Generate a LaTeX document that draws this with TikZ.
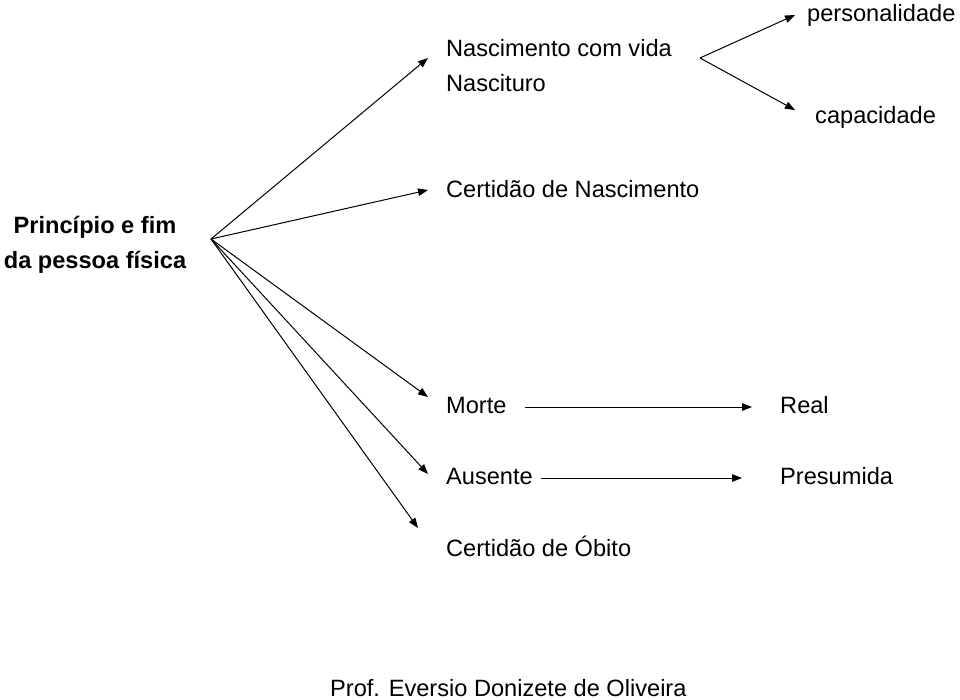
\documentclass[tikz,border=0pt]{standalone}
\usepackage{fontspec}
\setmainfont{Liberation Sans}
\usetikzlibrary{arrows.meta}
\begin{document}
\begin{tikzpicture}[x=1pt,y=-1pt,
  lbl/.style={anchor=base west,inner sep=0pt,font=\fontsize{23.6}{26}\selectfont},
  conn/.style={line width=1pt,-{Triangle[length=10pt,width=7.5pt]}}]
\useasboundingbox (0,0) rectangle (960,699);
% texts
\node[inner sep=0pt,align=center,anchor=base,font=\fontsize{23.6}{35}\selectfont\bfseries] (pf) at (95,268) {Princípio e fim\\da pessoa física};
\node[lbl] (nv) at (446,56) {Nascimento com vida};
\node[lbl] (nt) at (446,91.5) {Nascituro};
\node[lbl] (pe) at (807,21.5) {personalidade};
\node[lbl] (ca) at (815,123) {capacidade};
\node[lbl] (cn) at (446,197) {Certidão de Nascimento};
\node[lbl] (mo) at (446,413) {Morte};
\node[lbl] (re) at (780,413) {Real};
\node[lbl] (au) at (446,484) {Ausente};
\node[lbl] (pr) at (780,484) {Presumida};
\node[lbl] (co) at (446,556.5) {Certidão de Óbito};
\node[lbl] (prof) at (330,696) {Prof. Eversio Donizete de Oliveira};
% connector points
\coordinate (hub) at (211,239);
\coordinate (t1) at (428,58);
\coordinate (t2) at (428,190);
\coordinate (t3) at (428,397);
\coordinate (t4) at (428,474);
\coordinate (t5) at (418,528);
\coordinate (v) at (700,58);
\coordinate (tp) at (795,15);
\coordinate (tc) at (795,110);
\coordinate (ms) at (525,407);
\coordinate (me) at (752,407);
\coordinate (as) at (541,478);
\coordinate (ae) at (742,478);
% connectors
\draw[conn] (hub) -- (t1);
\draw[conn] (hub) -- (t2);
\draw[conn] (hub) -- (t3);
\draw[conn] (hub) -- (t4);
\draw[conn] (hub) -- (t5);
\draw[conn] (v) -- (tp);
\draw[conn] (v) -- (tc);
\draw[conn] (ms) -- (me);
\draw[conn] (as) -- (ae);
\end{tikzpicture}
\end{document}
